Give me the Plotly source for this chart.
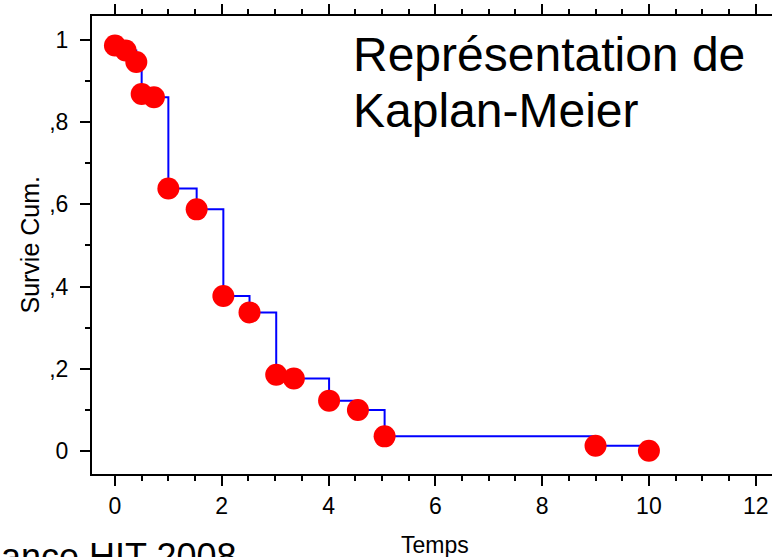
import plotly.graph_objects as go

# Data
temps = [0.0, 0.2, 0.4, 0.5, 0.73, 1.0, 1.53, 2.03, 2.52, 3.02, 3.35, 4.01, 4.55, 5.05, 9.0, 10.0]
survie = [0.987, 0.975, 0.947, 0.869, 0.861, 0.639, 0.588, 0.377, 0.337, 0.185, 0.176, 0.122, 0.099, 0.035, 0.012, 0.0]

y_tickvals = [0, 0.2, 0.4, 0.6, 0.8, 1.0]
y_ticktext = ["0", ",2", ",4", ",6", ",8", "1"]
x_tickvals = [0, 2, 4, 6, 8, 10, 12]
x_ticktext = ["0", "2", "4", "6", "8", "10", "12"]

narrow = "Liberation Sans Narrow, Arial Narrow, Liberation Sans, Arial, sans-serif"
regular = "Liberation Sans, Arial, sans-serif"

fig = go.Figure()
fig.add_trace(go.Scatter(x=temps, y=survie, mode="lines",
                         line=dict(color="#0000FF", width=2, shape="hv"),
                         showlegend=False, hoverinfo="skip"))
fig.add_trace(go.Scatter(x=temps, y=survie, mode="markers",
                         marker=dict(color="#FF0000", size=22, line=dict(width=0)),
                         showlegend=False))

W, H = 772, 557
L, R, T, B = 91.5, 0, 15.7, 557 - 474.3

fig.update_layout(
    width=W, height=H,
    margin=dict(l=L, r=R, t=T, b=B, pad=0),
    paper_bgcolor="white", plot_bgcolor="white",
    font=dict(family=narrow, size=22, color="black"),
    xaxis=dict(range=[-0.43, 12.305], showgrid=False, zeroline=False,
               showline=True, linecolor="black", linewidth=2, mirror="ticks",
               ticks="outside", ticklen=10, tickwidth=2, tickcolor="black",
               tickvals=x_tickvals, ticktext=x_ticktext,
               tickfont=dict(family=narrow, size=23),
               minor=dict(dtick=0.5, tick0=0, ticks="outside", ticklen=5,
                          tickwidth=2, tickcolor="black", showgrid=False)),
    yaxis=dict(range=[-0.0567, 1.059], showgrid=False, zeroline=False,
               showline=True, linecolor="black", linewidth=2, mirror=False,
               ticks="outside", ticklen=10, tickwidth=2, tickcolor="black",
               tickvals=y_tickvals, ticktext=y_ticktext,
               ticklabelstandoff=7,
               tickfont=dict(family=narrow, size=23),
               minor=dict(dtick=0.1, tick0=0, ticks="outside", ticklen=5,
                          tickwidth=2, tickcolor="black", showgrid=False)),
)

def px_x(p):
    return (p - L) / (W - L - R)

def px_y(p):
    return (H - B - p) / (H - T - B)

annotations = [
    dict(text="Représentation de", x=px_x(351), y=px_y(54), xanchor="left", yanchor="middle",
         font=dict(family=regular, size=48, color="black")),
    dict(text="Kaplan-Meier", x=px_x(351), y=px_y(110), xanchor="left", yanchor="middle",
         font=dict(family=regular, size=48, color="black")),
    dict(text="Survie Cum.", x=px_x(29), y=px_y(245), xanchor="center", yanchor="middle",
         textangle=-90, font=dict(family=narrow, size=25, color="black")),
    dict(text="Temps", x=px_x(435), y=px_y(545), xanchor="center", yanchor="middle",
         font=dict(family=narrow, size=23, color="black")),
    dict(text="ance HIT 2008", x=px_x(-2), y=px_y(557), xanchor="left", yanchor="middle",
         font=dict(family=regular, size=36, color="black")),
]
for a in annotations:
    a.update(xref="paper", yref="paper", showarrow=False)
    fig.add_annotation(**a)

fig.write_html("out.html")
